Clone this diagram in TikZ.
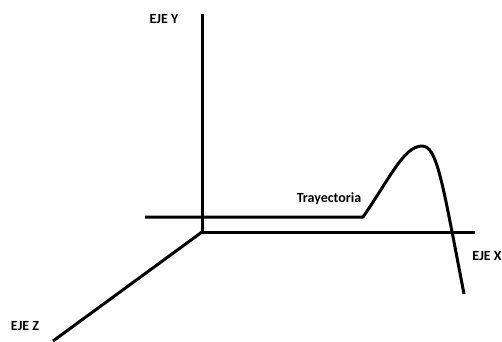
\documentclass[tikz,border=0pt]{standalone}
\usepackage{fontspec}
\setmainfont{Carlito}
\begin{document}
\begin{tikzpicture}[x=1pt,y=-1pt,
  axis/.style={line width=3pt},
  lbl/.style={font=\bfseries\fontsize{14}{16}\selectfont, inner sep=0pt}]
\useasboundingbox (0,0) rectangle (502,341);
\coordinate (O) at (202,232);
\coordinate (ytop) at (202,14);
\coordinate (xend) at (475,232);
\coordinate (zend) at (53,341);
\coordinate (tstart) at (145,217);
\coordinate (tbend) at (363,217);
\coordinate (tpeak) at (422,146);
\coordinate (tend) at (464,294);
\draw[axis] (ytop) -- (O) -- (xend);
\draw[axis] (O) -- (zend);
\draw[axis, line join=round] (tstart) -- (tbend)
  .. controls (390,178) and (404,146) .. (tpeak)
  .. controls (437,146) and (442,180) .. (tend);
\node[lbl] (ly) at (164,19) {EJE Y};
\node[lbl] (lx) at (487,256) {EJE X};
\node[lbl] (lz) at (25,326) {EJE Z};
\node[lbl] (lt) at (329,199) {Trayectoria};
\end{tikzpicture}
\end{document}
